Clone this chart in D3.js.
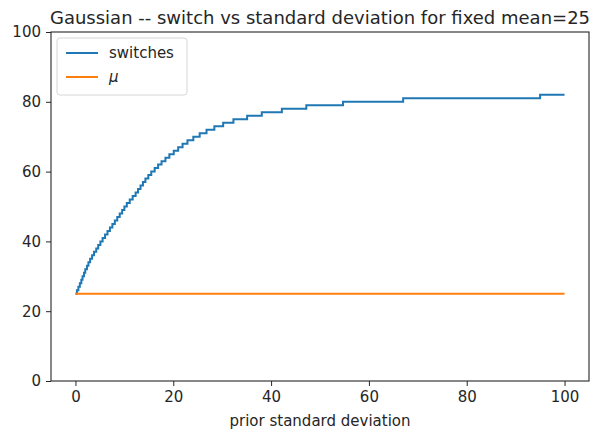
<!DOCTYPE html>
<html>
<head>
<meta charset="utf-8">
<script src="https://cdnjs.cloudflare.com/ajax/libs/d3/7.8.5/d3.min.js"></script>
<style>
  body { margin: 0; background: #fff; }
  svg text { font-family: "DejaVu Sans", sans-serif; fill: #262626; }
  .axis path, .axis line { stroke: #262626; }
</style>
</head>
<body>
<div id="chart"></div>
<script>
// prior standard deviation at which the switch count reaches each level
var sigmaSteps = [0, 0.3, 0.6, 0.9, 1.2, 1.45, 1.75, 2.0, 2.35, 2.65, 3.0,
  3.4, 3.8, 4.25, 4.65, 5.1, 5.55, 6.05, 6.55, 7.05, 7.55,
  8.05, 8.55, 9.05, 9.55, 10.0, 10.5, 11.1, 11.7, 12.3, 12.8,
  13.3, 13.8, 14.3, 14.9, 15.5, 16.2, 16.9, 17.6, 18.4, 19.2,
  20.1, 21.0, 21.9, 22.9, 24.1, 25.4, 26.8, 28.4, 30.2, 32.3,
  35.1, 38.1, 42.2, 47.2, 54.7, 67.0, 95.0, 100];
var switchLevels = [25, 26, 27, 28, 29, 30, 31, 32, 33, 34, 35,
  36, 37, 38, 39, 40, 41, 42, 43, 44, 45,
  46, 47, 48, 49, 50, 51, 52, 53, 54, 55,
  56, 57, 58, 59, 60, 61, 62, 63, 64, 65,
  66, 67, 68, 69, 70, 71, 72, 73, 74, 75,
  76, 77, 78, 79, 80, 81, 82, 82];
var muSigma = [0, 100];
var muValues = [25, 25];
var xTicks = [0, 20, 40, 60, 80, 100];
var yTicks = [0, 20, 40, 60, 80, 100];

var width = 611, height = 431;
var margin = {top: 32, right: 22, bottom: 50, left: 51};
var w = width - margin.left - margin.right,
    h = height - margin.top - margin.bottom;

var svg = d3.select('#chart').append('svg')
    .attr('width', width)
    .attr('height', height);

var g = svg.append('g')
    .attr('transform', 'translate(' + margin.left + ',' + margin.top + ')');

var x = d3.scaleLinear().domain([-5, 105]).range([0, w]);
var y = d3.scaleLinear().domain([0, 100]).range([h, 0]);

var xAxis = d3.axisBottom(x).tickValues(xTicks).tickSize(5).tickPadding(5);
var yAxis = d3.axisLeft(y).tickValues(yTicks).tickSize(5).tickPadding(5);

g.append('g')
    .attr('class', 'x axis')
    .attr('transform', 'translate(0,' + h + ')')
    .call(xAxis)
  .call(s => s.select('.domain').remove())
  .selectAll('text')
    .style('font-size', '15px');

g.append('g')
    .attr('class', 'y axis')
    .call(yAxis)
  .call(s => s.select('.domain').remove())
  .selectAll('text')
    .style('font-size', '15px');

// frame
g.append('rect')
    .attr('width', w)
    .attr('height', h)
    .attr('fill', 'none')
    .attr('stroke', '#262626')
    .attr('stroke-width', 1.1);

var switchData = sigmaSteps.map((s, i) => ({x: s, y: switchLevels[i]}));
var muData = muSigma.map((s, i) => ({x: s, y: muValues[i]}));

var stepLine = d3.line()
    .x(d => x(d.x))
    .y(d => y(d.y))
    .curve(d3.curveStepAfter);

var line = d3.line()
    .x(d => x(d.x))
    .y(d => y(d.y));

g.append('path')
    .datum(switchData)
    .attr('fill', 'none')
    .attr('stroke', '#1f77b4')
    .attr('stroke-width', 2)
    .attr('d', stepLine);

g.append('path')
    .datum(muData)
    .attr('fill', 'none')
    .attr('stroke', '#ff7f0e')
    .attr('stroke-width', 2)
    .attr('d', line);

// title and x label
svg.append('text')
    .attr('x', margin.left + w / 2)
    .attr('y', 24)
    .attr('text-anchor', 'middle')
    .style('font-size', '18px')
    .text('Gaussian -- switch vs standard deviation for fixed mean=25');

svg.append('text')
    .attr('x', margin.left + w / 2)
    .attr('y', 426)
    .attr('text-anchor', 'middle')
    .style('font-size', '15px')
    .text('prior standard deviation');

// legend
var legend = g.append('g').attr('transform', 'translate(6,6)');
legend.append('rect')
    .attr('width', 130)
    .attr('height', 57)
    .attr('rx', 3)
    .attr('fill', '#fff')
    .attr('fill-opacity', 0.8)
    .attr('stroke', '#d6d6d6');

var items = [{label: 'switches', color: '#1f77b4'}, {label: 'μ', color: '#ff7f0e', italic: true}];
items.forEach((d, i) => {
  var yy = 15 + i * 24;
  legend.append('line')
      .attr('x1', 9).attr('x2', 41)
      .attr('y1', yy).attr('y2', yy)
      .attr('stroke', d.color)
      .attr('stroke-width', 2);
  legend.append('text')
      .attr('x', 52)
      .attr('y', yy + 5)
      .style('font-size', '15px')
      .style('font-style', d.italic ? 'italic' : 'normal')
      .text(d.label);
});
</script>
</body>
</html>
